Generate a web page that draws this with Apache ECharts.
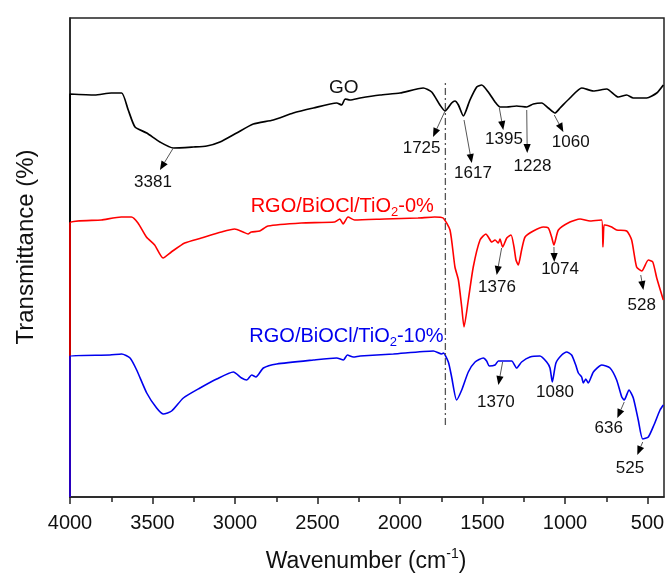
<!DOCTYPE html>
<html>
<head>
<meta charset="utf-8">
<script src="https://cdn.jsdelivr.net/npm/echarts@6/dist/echarts.min.js"></script>
<style>html,body{margin:0;padding:0;background:#fff;}#c{width:665px;height:574px;}</style>
</head>
<body>
<div id="c"></div>
<script>
// ---- Data (wavenumber cm-1, relative transmittance, offset spectra) ----
const majorTicks = [4000, 3500, 3000, 2500, 2000, 1500, 1000, 500];
const minorTicks = [3750, 3250, 2750, 2250, 1750, 1250, 750];

const goSpectrum = [
  [4000,0],[4000,403],[3850,402],[3750,404],[3687,404],[3647,387],[3606,370],[3535,364],[3455,355],
  [3374,349],[3253,350],[3171,351],[3091,355],[2990,364],[2889,373],[2768,377],[2647,384],[2525,389],
  [2384,394],[2353,392],[2333,398],[2303,397],[2242,399],[2121,402],[2000,404],[1859,409],[1808,405],
  [1758,392],[1727,386],[1687,394],[1667,396],[1646,392],[1616,381],[1576,397],[1535,410],[1505,412],
  [1465,405],[1424,395],[1394,390],[1353,390],[1293,391],[1232,390],[1192,393],[1141,394],[1101,389],
  [1061,384],[1030,389],[970,399],[899,409],[828,406],[747,408],[677,400],[626,402],[586,399],
  [505,399],[444,404],[404,412]
];

const rgo0Spectrum = [
  [4000,0],[4000,274],[3810,277],[3689,280],[3628,280],[3588,274],[3537,260],[3487,252],[3436,239],
  [3386,245],[3305,254],[3204,259],[3083,265],[3002,268],[2951,265],[2921,263],[2901,265],[2850,266],
  [2800,271],[2598,274],[2396,275],[2365,278],[2345,273],[2315,280],[2275,277],[2093,278],[1891,279],
  [1790,280],[1739,279],[1697,267],[1667,230],[1646,217],[1626,190],[1612,170],[1586,197],[1556,230],
  [1515,257],[1479,263],[1465,260],[1444,255],[1424,257],[1404,254],[1394,258],[1378,250],[1353,259],
  [1327,262],[1309,250],[1297,237],[1283,232],[1263,247],[1242,260],[1192,266],[1131,270],[1101,269],
  [1081,260],[1067,252],[1040,267],[970,275],[909,278],[848,276],[778,277],[770,250],[764,272],
  [758,272],[717,270],[687,267],[626,266],[596,257],[566,230],[535,226],[495,237],[468,235],
  [444,219],[404,197]
];

const rgo10Spectrum = [
  [4000,0],[4000,141],[3758,142],[3687,143],[3636,139],[3596,127],[3535,104],[3475,89],[3434,83],
  [3384,86],[3313,99],[3212,109],[3111,118],[3010,125],[2960,119],[2929,117],[2899,122],[2873,120],
  [2828,129],[2747,133],[2525,137],[2384,139],[2343,137],[2319,142],[2283,140],[2242,141],[2040,143],
  [1798,146],[1747,143],[1737,144],[1707,135],[1687,120],[1657,97],[1626,107],[1586,125],[1545,135],
  [1495,139],[1475,136],[1459,131],[1424,132],[1404,136],[1364,136],[1323,136],[1293,129],[1263,135],
  [1212,140],[1152,141],[1111,135],[1091,129],[1077,115],[1055,134],[1020,142],[990,145],[960,142],
  [935,132],[919,124],[899,120],[889,114],[874,118],[859,114],[828,125],[778,132],[727,129],
  [687,117],[656,100],[641,97],[612,107],[586,99],[556,77],[529,58],[495,60],[461,72],[424,87],[404,92]
];

// peak annotations: [label, tipWn, tipVal, headWn, headVal, textWn, textVal] (head null => no arrow)
const peakLabels = [
  ['3381', 3374, 349, 3455, 327, 3497, 315],
  ['1725', 1727, 386, 1800, 360, 1869, 349],
  ['1617', 1612, 377, 1565, 334, 1558, 324],
  ['1395', 1398, 389, 1374, 367, 1370, 358],
  ['1228', 1232, 387, 1229, 344, 1197, 331],
  ['1060', 1065, 382, 1010, 365, 965, 355],
  ['1376', 1384, 249, 1414, 222, 1412, 210],
  ['1074', 1067, 250, 1065, 235, 1030, 228],
  ['528', 541, 222, 525, 207, 535, 192],
  ['1370', 1378, 135, 1404, 112, 1419, 95],
  ['1080', null, null, null, null, 1061, 105],
  ['636', 641, 95, 683, 79, 735, 69],
  ['525', 529, 55, 562, 42, 606, 29]
];
const refLine = [1725, 72, 417];
const seriesNames = ['GO', 'RGO/BiOCl/TiO{sub|2}-0%', 'RGO/BiOCl/TiO{sub|2}-10%'];
const seriesLabelPos = [[2341, 409], [2905, 291], [2913, 161]];

const chart = echarts.init(document.getElementById('c'));
const FONT = '"Liberation Sans", Arial, sans-serif';
const xMin = 400, xMax = 4000;

chart.setOption({
  animation: false,
  grid: {left: 70, right: 1, top: 18, bottom: 77, show: true, borderColor: '#222', borderWidth: 1.5,
    containLabel: false, outerBoundsMode: 'none'},
  xAxis: [{
    type: 'value', min: xMin, max: xMax, inverse: true, position: 'bottom',
    axisLine: {show: true, onZero: false, lineStyle: {color: '#222', width: 1.5}},
    axisTick: {show: true, inside: false, length: 7, lineStyle: {color: '#222', width: 1.5}, customValues: majorTicks},
    axisLabel: {show: true, color: '#111', fontSize: 20, fontFamily: FONT, margin: 16, customValues: majorTicks,
      formatter: function (v) { return String(v); }},
    splitLine: {show: false}
  }, {
    type: 'value', min: xMin, max: xMax, inverse: true, position: 'bottom', gridIndex: 0,
    axisLine: {show: false, onZero: false},
    axisTick: {show: true, inside: false, length: 5, lineStyle: {color: '#222', width: 1.5}, customValues: minorTicks},
    axisLabel: {show: false},
    splitLine: {show: false}
  }],
  yAxis: {
    type: 'value', min: 0, max: 479,
    axisLine: {show: true, onZero: false, lineStyle: {color: '#222', width: 1.5}},
    axisTick: {show: false}, axisLabel: {show: false}, splitLine: {show: false}
  },
  series: [
    {type: 'line', data: goSpectrum, showSymbol: false, clip: false, lineStyle: {color: '#000', width: 1.7}, smooth: 0.2},
    {type: 'line', data: rgo0Spectrum, showSymbol: false, clip: false, lineStyle: {color: '#ff0000', width: 1.6}, smooth: 0.2},
    {type: 'line', data: rgo10Spectrum, showSymbol: false, clip: false, lineStyle: {color: '#0000ee', width: 1.6}, smooth: 0.2}
  ]
});

function P(wn, v) { return chart.convertToPixel({xAxisIndex: 0, yAxisIndex: 0}, [wn, v]); }
const g = [];
// reference dash-dot line
const r1 = P(refLine[0], refLine[1]), r2 = P(refLine[0], refLine[2]);
g.push({type: 'line', shape: {x1: r1[0], y1: r1[1], x2: r2[0], y2: r2[1]},
  style: {stroke: '#555', lineWidth: 1.3, lineDash: [7, 3, 2, 3]}, z: 5});
// peak arrows and labels
peakLabels.forEach(function (a) {
  if (a[1] !== null) {
    const t = P(a[1], a[2]), h = P(a[3], a[4]);
    const dx = h[0] - t[0], dy = h[1] - t[1], L = Math.sqrt(dx * dx + dy * dy);
    const ux = dx / L, uy = dy / L, hl = 9, hw = 3.6;
    const bx = h[0] - ux * hl, by = h[1] - uy * hl;
    g.push({type: 'line', shape: {x1: t[0], y1: t[1], x2: bx, y2: by}, style: {stroke: '#555', lineWidth: 1}, z: 6});
    g.push({type: 'polygon', shape: {points: [[h[0], h[1]], [bx - uy * hw, by + ux * hw], [bx + uy * hw, by - ux * hw]]},
      style: {fill: '#000'}, z: 6});
  }
  const p = P(a[5], a[6]);
  g.push({type: 'text', x: p[0], y: p[1], z: 7,
    style: {text: a[0], fill: '#111', font: '17px ' + FONT, align: 'center', verticalAlign: 'middle'}});
});
// series labels
const colors = ['#111', '#ff0000', '#0000ee'];
const sizes = [19, 20, 20];
seriesNames.forEach(function (n, i) {
  const p = P(seriesLabelPos[i][0], seriesLabelPos[i][1]);
  g.push({type: 'text', x: p[0], y: p[1], z: 7,
    style: {text: n, fill: colors[i], fontSize: sizes[i], fontFamily: FONT, lineHeight: 26,
      align: i === 0 ? 'center' : 'left', verticalAlign: 'middle',
      rich: {sub: {fontSize: 13, lineHeight: 13, verticalAlign: 'bottom', fill: colors[i], fontFamily: FONT}}}});
});
// axis titles
g.push({type: 'text', x: 366, y: 562, z: 7,
  style: {text: 'Wavenumber (cm{sup|-1})', fill: '#111', fontSize: 23, fontFamily: FONT, lineHeight: 30,
    align: 'center', verticalAlign: 'middle',
    rich: {sup: {fontSize: 14, lineHeight: 14, verticalAlign: 'top', fill: '#111', fontFamily: FONT}}}});
g.push({type: 'text', x: 26, y: 247, rotation: Math.PI / 2, z: 7,
  style: {text: 'Transmittance (%)', fill: '#111', fontSize: 24, fontFamily: FONT, align: 'center', verticalAlign: 'middle'}});
chart.setOption({graphic: {elements: g}});
</script>
</body>
</html>
